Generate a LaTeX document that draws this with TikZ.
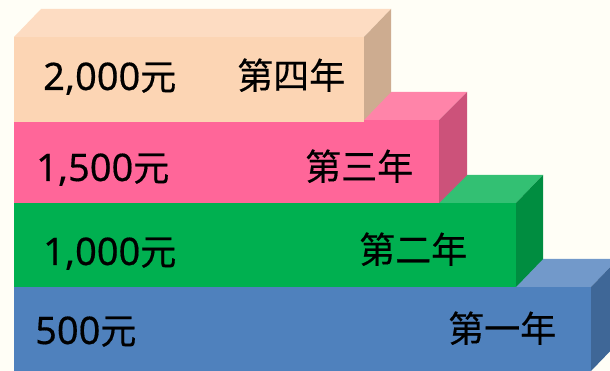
\documentclass[tikz,border=0pt]{standalone}
\usepackage{fontspec}
\usepackage{xcolor}
\usepackage{tikz}
\usetikzlibrary{positioning}
\usetikzlibrary{calc}
\setmainfont[FakeBold=0.4]{Noto Sans}
\newfontfamily\tcfont[FakeBold=0.4]{Noto Sans CJK TC}

\definecolor{bg}{HTML}{FFFEF6}
\definecolor{peachF}{HTML}{FCD5B4}
\definecolor{peachT}{HTML}{FDDCC2}
\definecolor{peachS}{HTML}{CDAC90}
\definecolor{pinkF}{HTML}{FF6699}
\definecolor{pinkT}{HTML}{FF84A9}
\definecolor{pinkS}{HTML}{CC527A}
\definecolor{greenF}{HTML}{00B050}
\definecolor{greenT}{HTML}{33C073}
\definecolor{greenS}{HTML}{008D40}
\definecolor{blueF}{HTML}{4F81BD}
\definecolor{blueT}{HTML}{7299CA}
\definecolor{blueS}{HTML}{3F6797}

\begin{document}
\begin{tikzpicture}[x=1pt, y=-1pt,
	sum/.style = {anchor=base west, inner sep=0pt, font=\fontsize{38}{40}\selectfont},
	year/.style = {anchor=base west, inner sep=0pt, font=\tcfont\fontsize{36}{40}\selectfont}]
\fill[bg] (0,0) rectangle (610,371);
\useasboundingbox (0,0) rectangle (610,371);

% first year (bottom)
\fill[blueT] (14,287) -- (41,259) -- (618,259) -- (591,287) -- cycle;
\fill[blueS] (591,287) -- (618,259) -- (618,343) -- (591,371) -- cycle;
\fill[blueF] (14,287) rectangle (591,371);

% second year
\fill[greenT] (14,203) -- (41,175) -- (543,175) -- (516,203) -- cycle;
\fill[greenS] (516,203) -- (543,175) -- (543,259) -- (516,287) -- cycle;
\fill[greenF] (14,203) rectangle (516,287);

% third year
\fill[pinkT] (14,120) -- (41,92) -- (467,92) -- (439,120) -- cycle;
\fill[pinkS] (439,120) -- (467,92) -- (467,175) -- (439,203) -- cycle;
\fill[pinkF] (14,120) rectangle (439,203);

% fourth year (top)
\fill[peachT] (14,37) -- (41,9) -- (391,9) -- (364,37) -- cycle;
\fill[peachS] (364,37) -- (391,9) -- (391,92) -- (364,120) -- cycle;
\fill[peachF] (14,37) rectangle (364,122);

\node[sum] (sum4) at (43,90) {2,000{\tcfont\fontsize{36}{40}\selectfont 元}};
\node[year] (year4) at (237,89) {第四年};
\node[sum] (sum3) at (36,181) {1,500{\tcfont\fontsize{36}{40}\selectfont 元}};
\node[year] (year3) at (305,180) {第三年};
\node[sum] (sum2) at (43,265) {1,000{\tcfont\fontsize{36}{40}\selectfont 元}};
\node[year] (year2) at (359,263) {第二年};
\node[sum] (sum1) at (35,344) {500{\tcfont\fontsize{36}{40}\selectfont 元}};
\node[year] (year1) at (448,342) {第一年};
\end{tikzpicture}
\end{document}
